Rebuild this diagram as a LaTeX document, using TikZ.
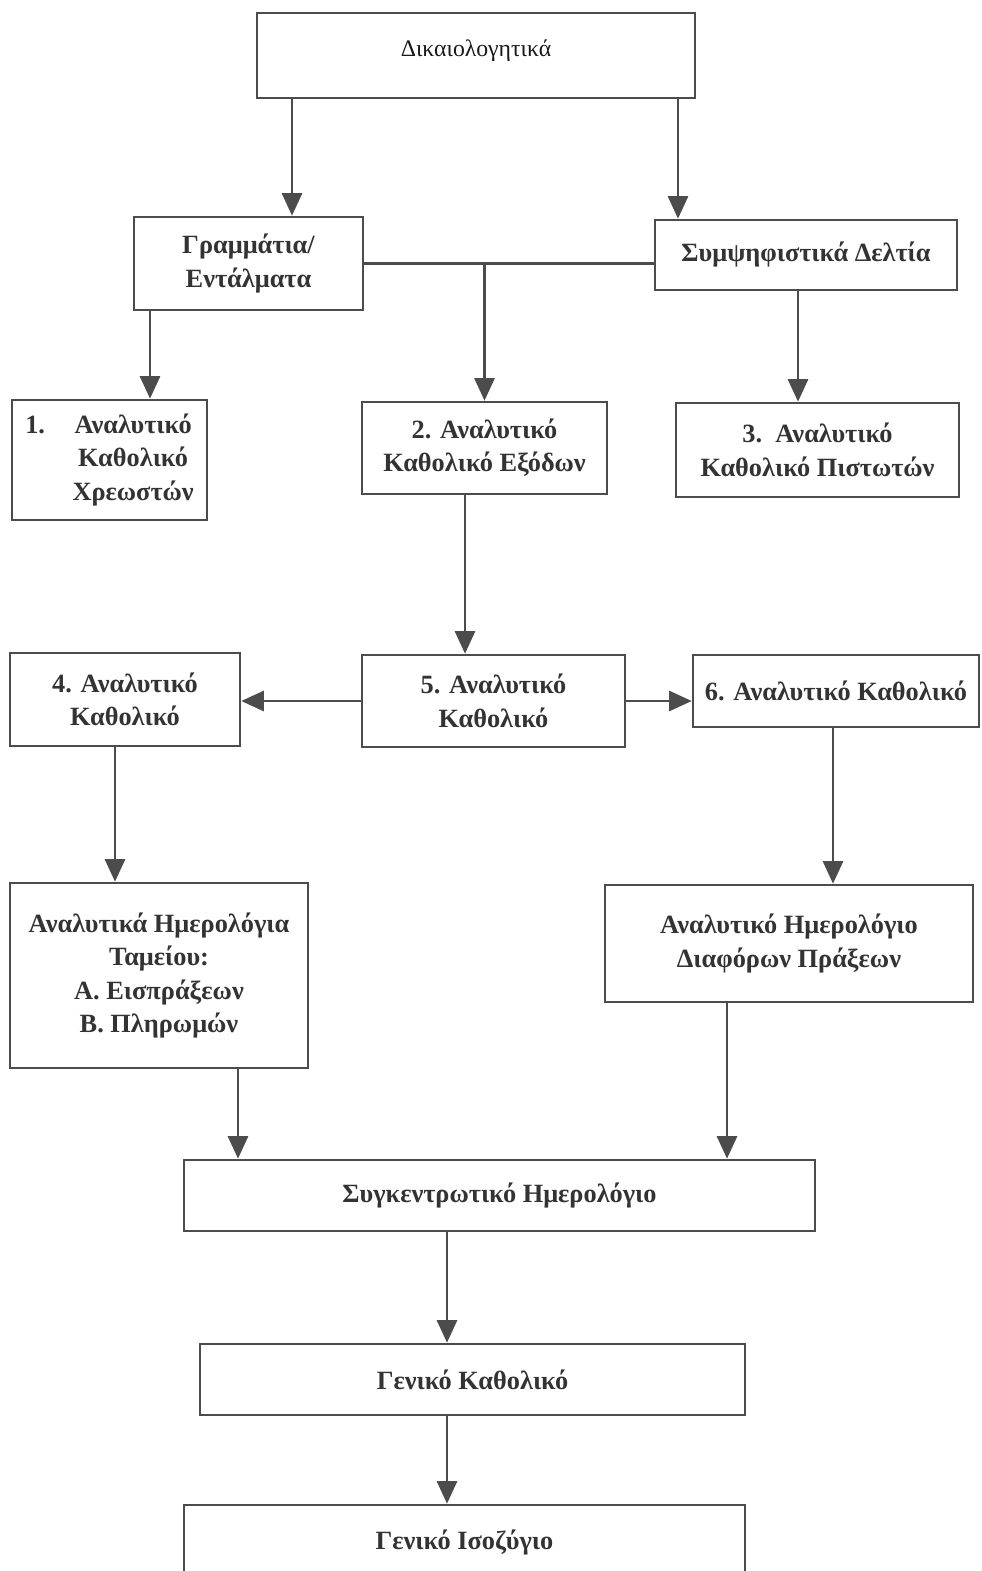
\documentclass[tikz,border=0pt]{standalone}
\usepackage{fontspec}
\setmainfont{Liberation Serif}
\usetikzlibrary{arrows.meta}

\tikzset{
  box/.style={draw=black!70, line width=1.5pt, inner sep=0pt, align=center,
    text=black!80, font=\bfseries\fontsize{15}{19}\selectfont},
  arr/.style={draw=black!70, line width=1.5pt, -{Triangle[width=0.4cm,length=0.45cm]}},
  ln/.style={draw=black!70, line width=1.5pt}
}

\begin{document}
\begin{tikzpicture}[x=0.02cm, y=-0.02cm]

\useasboundingbox (0,0) rectangle (981,1571);
\clip (0,0) rectangle (981,1571);

\node[box, minimum width=8.76cm, minimum height=1.70cm, text depth=0.3cm, text=black!90,
  font=\mdseries\fontsize{13.5}{16}\selectfont] (dik) at (476,55.5) {Δικαιολογητικά};

\node[box, minimum width=4.58cm, minimum height=1.86cm] (gram) at (248.5,263.5) {Γραμμάτια/\\Εντάλματα};
\node[box, minimum width=6.04cm, minimum height=1.40cm] (symps) at (806,255) {Συμψηφιστικά Δελτία};

\node[box, minimum width=3.90cm, minimum height=2.40cm] (box1) at (109.5,460)
  {\begin{tabular}{@{}l@{\hspace{0.55cm}}c@{}}1. & Αναλυτικό\\ & Καθολικό\\ & Χρεωστών\end{tabular}};
\node[box, minimum width=4.90cm, minimum height=1.84cm] (box2) at (484.5,448) {2. Αναλυτικό\\Καθολικό Εξόδων};
\node[box, minimum width=5.66cm, minimum height=1.88cm] (box3) at (817.5,450) {3.\, Αναλυτικό\\Καθολικό Πιστωτών};

\node[box, minimum width=4.60cm, minimum height=1.86cm] (box4) at (125,699.5) {4. Αναλυτικό\\Καθολικό};
\node[box, minimum width=5.26cm, minimum height=1.84cm] (box5) at (493.5,701) {5. Αναλυτικό\\Καθολικό};
\node[box, minimum width=5.72cm, minimum height=1.44cm] (box6) at (836,691) {6. Αναλυτικό Καθολικό};

\node[box, minimum width=5.96cm, minimum height=3.70cm] (hmer) at (159,975.5)
  {Αναλυτικά Ημερολόγια\\Ταμείου:\\Α. Εισπράξεων\\Β. Πληρωμών};
\node[box, minimum width=7.36cm, minimum height=2.34cm] (diaf) at (789,943.5) {Αναλυτικό Ημερολόγιο\\Διαφόρων Πράξεων};

\node[box, minimum width=12.62cm, minimum height=1.42cm] (synk) at (499.5,1195.5) {Συγκεντρωτικό Ημερολόγιο};
\node[box, minimum width=10.90cm, minimum height=1.42cm] (genkath) at (472.5,1379.5) {Γενικό Καθολικό};
\node[box, minimum width=11.22cm, minimum height=1.48cm] (isoz) at (464.5,1542) {Γενικό Ισοζύγιο};

\coordinate (colDikL) at (292,0);
\coordinate (colDikR) at (678,0);
\coordinate (colGram) at (150,0);
\coordinate (colSymps) at (798,0);
\coordinate (colExo) at (465,0);
\coordinate (colKath4) at (115,0);
\coordinate (colKath6) at (833,0);
\coordinate (colHmer) at (238,0);
\coordinate (colDiaf) at (727,0);
\coordinate (colGen) at (447,0);

\draw[arr] (dik.south -| colDikL) -- (gram.north -| colDikL);
\draw[arr] (dik.south -| colDikR) -- (symps.north -| colDikR);

\draw[ln] (gram.east) -- (gram.east -| symps.west);
\draw[arr] (gram.east -| box2.north) -- (box2.north);
\draw[arr] (gram.south -| colGram) -- (box1.north -| colGram);
\draw[arr] (symps.south -| colSymps) -- (box3.north -| colSymps);

\draw[arr] (box2.south -| colExo) -- (box5.north -| colExo);
\draw[arr] (box5.west) -- (box5.west -| box4.east);
\draw[arr] (box5.east) -- (box5.east -| box6.west);

\draw[arr] (box4.south -| colKath4) -- (hmer.north -| colKath4);
\draw[arr] (box6.south -| colKath6) -- (diaf.north -| colKath6);

\draw[arr] (hmer.south -| colHmer) -- (synk.north -| colHmer);
\draw[arr] (diaf.south -| colDiaf) -- (synk.north -| colDiaf);

\draw[arr] (synk.south -| colGen) -- (genkath.north -| colGen);
\draw[arr] (genkath.south -| colGen) -- (isoz.north -| colGen);

\end{tikzpicture}
\end{document}
